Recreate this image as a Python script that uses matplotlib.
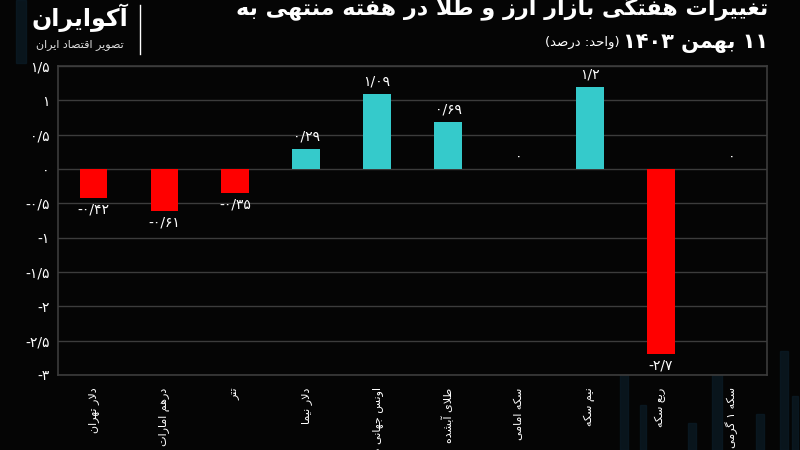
import matplotlib
matplotlib.use("Agg")
import matplotlib.pyplot as plt
from matplotlib.patches import Rectangle

# data (percent change)
categories = ["دلار تهران", "درهم امارات", "تتر", "دلار نیما", "اونس جهانی طلا",
              "طلای آبشده", "سکه امامی", "نیم سکه", "ربع سکه", "سکه ۱ گرمی"]
values = [-0.42, -0.61, -0.35, 0.29, 1.09, 0.69, 0.0, 1.2, -2.7, 0.0]
value_labels = ["-۰/۴۲", "-۰/۶۱", "-۰/۳۵", "۰/۲۹", "۱/۰۹", "۰/۶۹", "۰", "۱/۲", "-۲/۷", "۰"]
y_ticks = [1.5, 1, 0.5, 0, -0.5, -1, -1.5, -2, -2.5, -3]
y_tick_labels = ["۱/۵", "۱", "۰/۵", "۰", "-۰/۵", "-۱", "-۱/۵", "-۲", "-۲/۵", "-۳"]

title1 = "تغییرات هفتگی بازار ارز و طلا در هفته منتهی به"
title2 = "۱۱ بهمن ۱۴۰۳"
unit = "(واحد: درصد)"
brand = "آکوایران"
brand_sub = "تصویر اقتصاد ایران"

# faint background columns (decoration): x, width, height in figure fractions
deco_x = [0.02, 0.775, 0.80, 0.86, 0.89, 0.945, 0.975, 0.99]
deco_w = [0.012, 0.01, 0.008, 0.01, 0.012, 0.01, 0.01, 0.008]
deco_h = [0.14, 0.25, 0.1, 0.06, 0.2, 0.08, 0.22, 0.12]

# --- minimal arabic/persian shaping (matplotlib has no text shaping) ---
FORMS = {
    "ا": ("\uFE8D", "\uFE8E"), "آ": ("\uFE81", "\uFE82"),
    "د": ("\uFEA9", "\uFEAA"), "ر": ("\uFEAD", "\uFEAE"),
    "ز": ("\uFEAF", "\uFEB0"), "و": ("\uFEED", "\uFEEE"),
    "LA": ("\uFEFB", "\uFEFC"), "LAA": ("\uFEF5", "\uFEF6"),
    "ب": ("\uFE8F", "\uFE90", "\uFE91", "\uFE92"),
    "ت": ("\uFE95", "\uFE96", "\uFE97", "\uFE98"),
    "ج": ("\uFE9D", "\uFE9E", "\uFE9F", "\uFEA0"),
    "ح": ("\uFEA1", "\uFEA2", "\uFEA3", "\uFEA4"),
    "س": ("\uFEB1", "\uFEB2", "\uFEB3", "\uFEB4"),
    "ش": ("\uFEB5", "\uFEB6", "\uFEB7", "\uFEB8"),
    "ص": ("\uFEB9", "\uFEBA", "\uFEBB", "\uFEBC"),
    "ط": ("\uFEC1", "\uFEC2", "\uFEC3", "\uFEC4"),
    "ع": ("\uFEC9", "\uFECA", "\uFECB", "\uFECC"),
    "غ": ("\uFECD", "\uFECE", "\uFECF", "\uFED0"),
    "ف": ("\uFED1", "\uFED2", "\uFED3", "\uFED4"),
    "ق": ("\uFED5", "\uFED6", "\uFED7", "\uFED8"),
    "ل": ("\uFEDD", "\uFEDE", "\uFEDF", "\uFEE0"),
    "م": ("\uFEE1", "\uFEE2", "\uFEE3", "\uFEE4"),
    "ن": ("\uFEE5", "\uFEE6", "\uFEE7", "\uFEE8"),
    "ه": ("\uFEE9", "\uFEEA", "\uFEEB", "\uFEEC"),
    "ی": ("\uFBFC", "\uFBFD", "\uFBFE", "\uFBFF"),
    "ک": ("\uFB8E", "\uFB8F", "\uFB90", "\uFB91"),
    "گ": ("\uFB92", "\uFB93", "\uFB94", "\uFB95"),
}
LTR = set("۰۱۲۳۴۵۶۷۸۹0123456789/.")


def fa(txt):
    seq = []
    i = 0
    while i < len(txt):
        c = txt[i]
        if c == "ل" and i + 1 < len(txt) and txt[i + 1] in "اآ":
            seq.append("LA" if txt[i + 1] == "ا" else "LAA")
            i += 2
        else:
            seq.append(c)
            i += 1
    shaped = []
    for k, c in enumerate(seq):
        if c not in FORMS:
            shaped.append(c)
            continue
        f = FORMS[c]
        jp = k > 0 and seq[k - 1] in FORMS and len(FORMS[seq[k - 1]]) == 4
        jn = len(f) == 4 and k + 1 < len(seq) and seq[k + 1] in FORMS
        if jp and jn:
            shaped.append(f[3])
        elif jp:
            shaped.append(f[1])
        elif jn:
            shaped.append(f[2])
        else:
            shaped.append(f[0])
    # simple bidi: runs of digits stay LTR, everything else reversed
    runs = []
    for c in shaped:
        kind = c in LTR
        if runs and runs[-1][0] == kind:
            runs[-1][1].append(c)
        else:
            runs.append([kind, [c]])
    mirror = {"(": ")", ")": "("}
    out = ""
    for kind, chars in reversed(runs):
        if kind:
            out += "".join(chars)
        else:
            out += "".join(mirror.get(ch, ch) for ch in reversed(chars))
    return out


plt.rcParams["font.family"] = ["DejaVu Sans"]

bg = "#050505"
cyan = "#35CACB"
red = "#FF0000"
grid = "#3c3c3c"

fig = plt.figure(figsize=(8, 4.5), dpi=100, facecolor=bg)

for dx, dw, dh in zip(deco_x, deco_w, deco_h):
    top = dx < 0.1
    fig.add_artist(Rectangle((dx, 1 - dh if top else 0), dw, dh,
                             transform=fig.transFigure, color="#0b1c27",
                             alpha=0.7, zorder=0))

ax = fig.add_axes([0.0725, 0.1667, 0.8863, 0.6863], facecolor=bg)

x = list(range(len(categories)))
colors = [red if v < 0 else cyan for v in values]
ax.bar(x, values, width=0.39, color=colors, zorder=3)

for xi, v, lab in zip(x, values, value_labels):
    if v < 0:
        ax.annotate(lab, (xi, v), xytext=(0, -3), textcoords="offset points",
                    ha="center", va="top", color="white", fontsize=10)
    else:
        ax.annotate(lab, (xi, v), xytext=(0, 4), textcoords="offset points",
                    ha="center", va="bottom", color="white", fontsize=10)

ax.set_xlim(-0.5, len(categories) - 0.5)
ax.set_ylim(-3, 1.5)
ax.set_yticks(y_ticks)
ax.set_yticklabels(y_tick_labels, color="white", fontsize=10)
ax.set_xticks(x)
ax.set_xticklabels([fa(c) for c in categories], rotation=90, color="white",
                   fontsize=8, va="top")
ax.tick_params(axis="both", length=0)
ax.tick_params(axis="x", pad=9)
ax.tick_params(axis="y", pad=6)
ax.grid(axis="y", color=grid, linewidth=1, zorder=0)
for s in ax.spines.values():
    s.set_color(grid)
    s.set_linewidth(1.2)

# header
fig.text(0.96, 0.985, fa(title1), ha="right", va="center", color="white",
         fontsize=16, fontweight="bold")
fig.text(0.96, 0.905, fa(title2), ha="right", va="center", color="white",
         fontsize=15, fontweight="bold")
fig.text(0.774, 0.905, fa(unit), ha="right", va="center", color="white",
         fontsize=9.5)
fig.text(0.1, 0.96, fa(brand), ha="center", va="center", color="white",
         fontsize=17, fontweight="bold")
fig.text(0.1, 0.9, fa(brand_sub), ha="center", va="center", color="#dddddd",
         fontsize=8)
fig.add_artist(plt.Line2D([0.175, 0.175], [0.88, 0.99], color="white", lw=1))

fig.savefig("out.png", dpi=100, facecolor=bg)
